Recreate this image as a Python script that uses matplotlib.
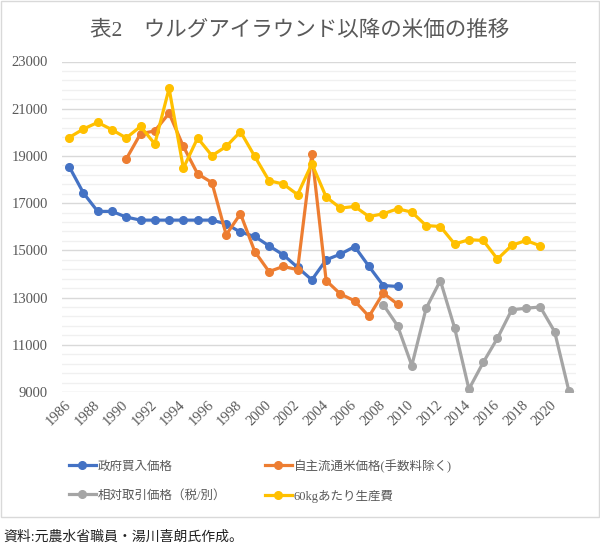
import numpy as np
import matplotlib
matplotlib.use("Agg")
import matplotlib.pyplot as plt
from matplotlib.patches import Rectangle

plt.rcParams['font.family'] = ['Liberation Serif', 'Noto Sans CJK JP', 'DejaVu Sans']

# 年
years_gov = list(range(1986, 2010))
years_jishu = list(range(1990, 2010))
years_sotai = list(range(2008, 2022))
years_cost = list(range(1986, 2020))

# 政府買入価格
gov_price = [18550, 17430, 16650, 16650, 16410, 16280, 16280, 16280, 16280, 16280,
             16280, 16120, 15770, 15590, 15190, 14810, 14280, 13750, 14600, 14840,
             15160, 14320, 13510, 13470]
# 自主流通米価格(手数料除く)
jishu_price = [18870, 19940, 20060, 20810, 19400, 18240, 17870, 15660, 16550, 14950,
               14100, 14320, 14180, 19090, 13720, 13150, 12860, 12200, 13190, 12720]
# 相対取引価格（税/別）
sotai_price = [12700, 11810, 10120, 12540, 13720, 11710, 9120, 10250, 11280, 12480,
               12550, 12600, 11560, 9050]
# 60kgあたり生産費
cost_price = [19780, 20140, 20420, 20110, 19760, 20250, 19510, 21860, 18480, 19760,
              19010, 19400, 20030, 18980, 17950, 17810, 17360, 18670, 17260, 16790,
              16860, 16430, 16550, 16760, 16620, 16050, 16010, 15270, 15450, 15420,
              14630, 15210, 15420, 15190]

labels = ['政府買入価格', '相対取引価格（税/別）', '自主流通米価格(手数料除く)', '60kgあたり生産費']
colors = ['#4472C4', '#A5A5A5', '#ED7D31', '#FFC000']

fig = plt.figure(figsize=(6, 5.47), dpi=100)
ax = fig.add_axes([62/600, 1 - 392/547, 514/600, 330.5/547])

series = [(years_gov, gov_price), (years_sotai, sotai_price),
          (years_jishu, jishu_price), (years_cost, cost_price)]
handles = []
for (x, y), lab, c in zip(series, labels, colors):
    h, = ax.plot(x, y, color=c, lw=2.3, marker='o', markersize=5.5, label=lab, zorder=3)
    handles.append(h)

ax.set_xlim(1985.5, 2021.5)
ax.set_ylim(9000, 23000)
ax.set_xticks(list(range(1986, 2021, 2)))
ax.set_yticks(list(range(9000, 23001, 2000)))
ax.set_yticks(list(np.arange(9000, 23001, 400)), minor=True)
ax.grid(True, which='major', axis='y', color='#D9D9D9', lw=1)
ax.grid(True, which='minor', axis='y', color='#F0F0F0', lw=1)
ax.set_axisbelow(True)
for s in ax.spines.values():
    s.set_visible(False)
ax.tick_params(axis='both', which='both', length=0, colors='#595959', labelsize=10.5)
ax.tick_params(axis='y', pad=10)
ax.tick_params(axis='x', pad=8)
for t in ax.get_xticklabels():
    t.set_rotation(45)
    t.set_rotation_mode('anchor')
    t.set_ha('right')
    t.set_va('center')

fig.text(0.5, 1 - 31/547, '表2　ウルグアイラウンド以降の米価の推移', ha='center', va='center',
         fontsize=15.5, color='#595959')

leg = fig.legend(handles=handles, labels=labels, ncol=2, loc='center left',
                 bbox_to_anchor=(58/600, 1 - 481/547), frameon=False,
                 fontsize=9, handlelength=2.1, handletextpad=0.2,
                 columnspacing=3.1, labelspacing=1.35)
for t in leg.get_texts():
    t.set_color('#595959')

fig.text(3/600, 1 - 537/547, '資料:元農水省職員・湯川喜朗氏作成。', ha='left', va='center',
         fontsize=10, color='#222222')

fig.patches.append(Rectangle((0.5/600, 1 - 517/547), 598.5/600, 516.5/547,
                             transform=fig.transFigure, fill=False,
                             edgecolor='#D9D9D9', lw=1))

fig.savefig('out.png', dpi=100)
